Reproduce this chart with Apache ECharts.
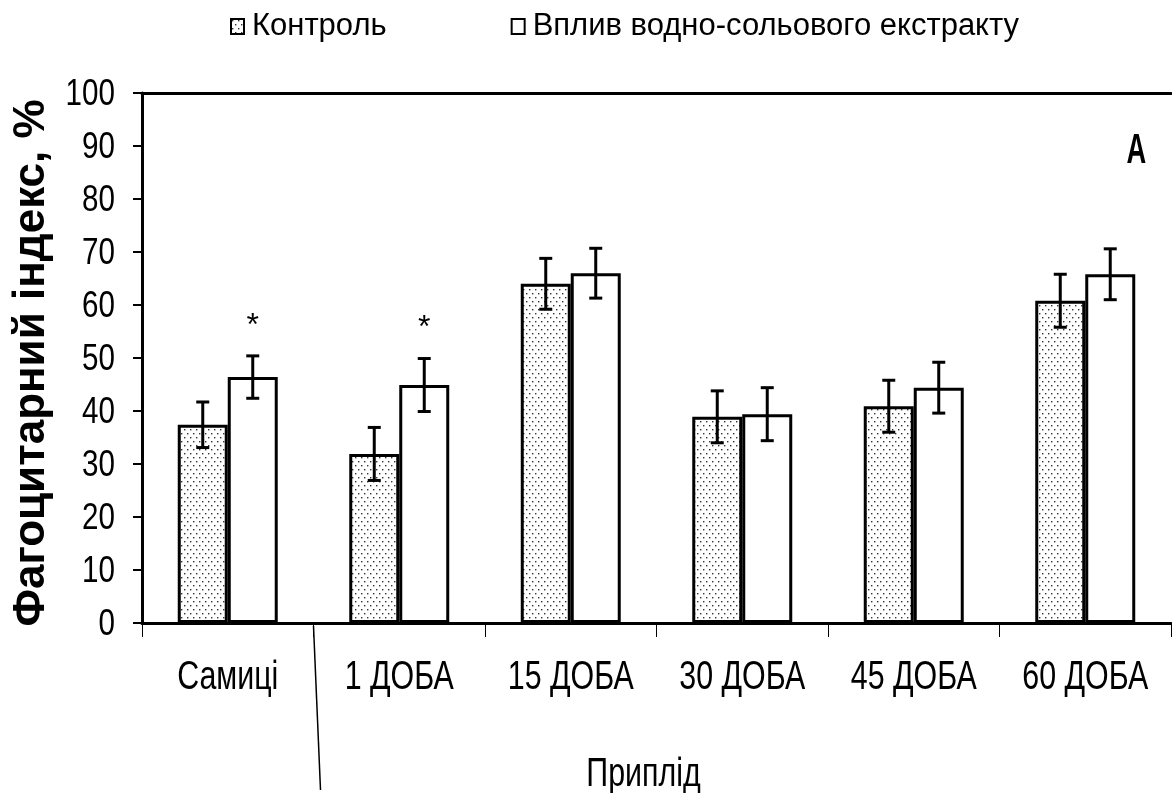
<!DOCTYPE html>
<html>
<head>
<meta charset="utf-8">
<script src="https://cdn.jsdelivr.net/npm/echarts@6/dist/echarts.min.js"></script>
<style>
  html, body { margin: 0; padding: 0; background: #fff; }
  #chart { width: 1172px; height: 793px; }
</style>
</head>
<body>
<div id="chart"></div>
<script>
// Groups on the category axis
const categories = ['Самиці', '1 ДОБА', '15 ДОБА', '30 ДОБА', '45 ДОБА', '60 ДОБА'];
// Phagocytic index, % (mean and error half-width)
const controlValues = [37.4, 31.9, 64.0, 38.9, 40.9, 60.8];
const controlErrors = [4.3, 5.0, 4.8, 4.9, 4.9, 5.0];
const extractValues = [46.4, 44.9, 66.0, 39.4, 44.4, 65.8];
const extractErrors = [4.0, 5.0, 4.7, 5.0, 4.8, 4.8];
// Significance marks over the extract bars
const significance = ['*', '*', '', '', '', ''];
const yTicks = [0, 10, 20, 30, 40, 50, 60, 70, 80, 90, 100];

const FONT = '"Liberation Sans", Arial, sans-serif';

// Fine dotted fill for the control bars
function dotPattern() {
  const c = document.createElement('canvas');
  c.width = 6; c.height = 8;
  const g = c.getContext('2d');
  g.fillStyle = '#fff';
  g.fillRect(0, 0, 6, 8);
  g.fillStyle = '#333';
  g.fillRect(1, 1, 1.4, 1.4);
  g.fillRect(4, 5, 1.4, 1.4);
  return c;
}
const dots = { image: dotPattern(), repeat: 'repeat' };

const BAR_FRAC = 0.2915;

function errorSeries(values, errors, side, marks) {
  return {
    type: 'custom',
    z: 5,
    silent: true,
    data: values.map((v, i) => [i, v, errors[i]]),
    renderItem(params, api) {
      const i = api.value(0);
      const v = api.value(1);
      const e = api.value(2);
      const band = api.size([1, 0])[0];
      const x = api.coord([i, v])[0] + side * band * BAR_FRAC / 2;
      const hi = api.coord([i, v + e])[1];
      const lo = api.coord([i, v - e])[1];
      const cap = 6.5;
      const style = { stroke: '#000', lineWidth: 3 };
      const children = [
        { type: 'line', shape: { x1: x, y1: hi, x2: x, y2: lo }, style },
        { type: 'line', shape: { x1: x - cap, y1: hi, x2: x + cap, y2: hi }, style },
        { type: 'line', shape: { x1: x - cap, y1: lo, x2: x + cap, y2: lo }, style }
      ];
      if (marks && marks[i]) {
        children.push({
          type: 'text',
          style: {
            text: marks[i], x: x, y: hi - 30,
            align: 'center', verticalAlign: 'middle',
            font: '32px ' + FONT, fill: '#000'
          }
        });
      }
      return { type: 'group', children };
    }
  };
}

const chart = echarts.init(document.getElementById('chart'), null, { renderer: 'canvas' });

const option = {
  animation: false,
  backgroundColor: '#fff',
  grid: { left: 142, right: 1, top: 93, bottom: 170, containLabel: false },
  legend: {
    top: 6, left: 225,
    itemWidth: 13, itemHeight: 15,
    itemGap: 124,
    icon: 'rect',
    textStyle: { fontFamily: FONT, fontSize: 31, color: '#000', padding: [0, 0, 0, 3] },
    data: ['Контроль', 'Вплив водно-сольового екстракту']
  },
  xAxis: [{
    type: 'category',
    data: categories,
    position: 'bottom',
    axisLine: { lineStyle: { color: '#000', width: 3 } },
    axisTick: { show: true, length: 14, inside: false, lineStyle: { color: '#000', width: 1 } },
    axisLabel: { show: false }
  }, {
    type: 'category',
    data: categories,
    position: 'top',
    axisLine: { lineStyle: { color: '#000', width: 3 } },
    axisTick: { show: false },
    axisLabel: { show: false }
  }],
  yAxis: {
    type: 'value',
    min: yTicks[0], max: yTicks[yTicks.length - 1], interval: 10,
    axisLine: { show: true, lineStyle: { color: '#000', width: 3 } },
    axisTick: { show: true, length: 9, lineStyle: { color: '#000', width: 2 } },
    splitLine: { show: false },
    axisLabel: { show: false },
    name: 'Фагоцитарний індекс, %',
    nameLocation: 'middle',
    nameGap: 88,
    nameTextStyle: { fontFamily: FONT, fontWeight: 'bold', fontSize: 44, color: '#000', padding: [0, 10, 0, 0] }
  },
  series: [{
    name: 'Контроль',
    type: 'bar',
    barWidth: (BAR_FRAC * 100) + '%',
    barGap: '0%',
    data: controlValues,
    itemStyle: { color: dots, borderColor: '#000', borderWidth: 3 }
  }, {
    name: 'Вплив водно-сольового екстракту',
    type: 'bar',
    barWidth: (BAR_FRAC * 100) + '%',
    barGap: '0%',
    data: extractValues,
    itemStyle: { color: '#fff', borderColor: '#000', borderWidth: 3 }
  },
  errorSeries(controlValues, controlErrors, -1, null),
  errorSeries(extractValues, extractErrors, 1, significance)
  ]
};

chart.setOption(option);

// Condensed text drawn at axis positions (horizontally squeezed glyphs)
function narrowText(text, x, y, size, sx, align, weight) {
  return {
    type: 'text', x: x, y: y, scaleX: sx, silent: true,
    style: {
      text: text, x: 0, y: 0, align: align, verticalAlign: 'middle',
      font: (weight || 'normal') + ' ' + size + 'px ' + FONT, fill: '#000'
    }
  };
}

const px = i => chart.convertToPixel({ xAxisIndex: 0 }, i);
const py = v => chart.convertToPixel({ yAxisIndex: 0 }, v);
const band = px(1) - px(0);
const axisY = py(0);
const axisX = px(0) - band / 2;
const graphics = [];

categories.forEach((c, i) => {
  graphics.push(narrowText(c, px(i), axisY + 55, 40, 0.76, 'center'));
});
yTicks.forEach(t => {
  graphics.push(narrowText(String(t), axisX - 27, py(t) + 2, 37, 0.8, 'right'));
});

// Axis title below the groups
graphics.push(narrowText('Приплід', axisX + band * categories.length / 2 - 13, axisY + 152, 40, 0.76, 'center'));

// Slanted separator between the females and the offspring groups
const sepX = (px(0) + px(1)) / 2;
graphics.push({
  type: 'line',
  shape: { x1: sepX, y1: axisY + 3, x2: sepX + 7, y2: 790 },
  style: { stroke: '#000', lineWidth: 1.5 }
});

// Panel letter
graphics.push(narrowText('A', px(5) + 51, py(89), 42, 0.65, 'center', 'bold'));

chart.setOption({ graphic: graphics });
</script>
</body>
</html>
